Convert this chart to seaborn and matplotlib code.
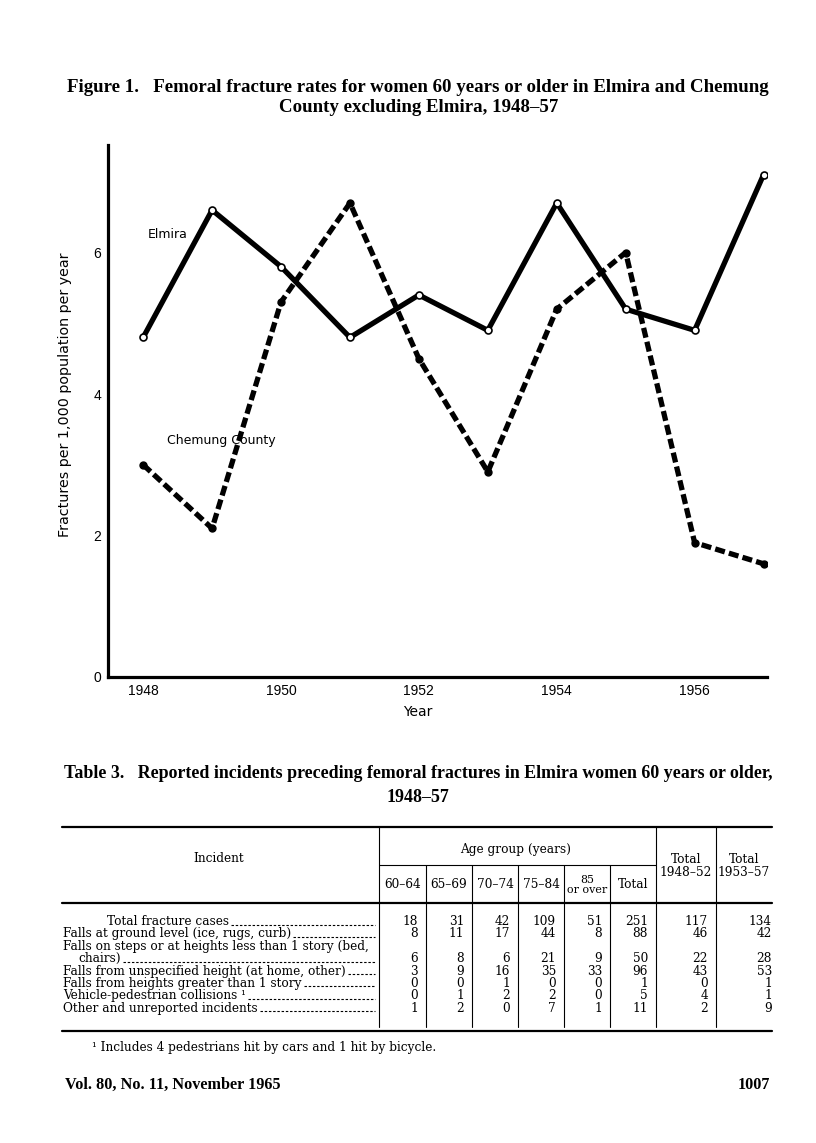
import numpy as np
import pandas as pd
import seaborn as sns
import matplotlib.pyplot as plt

# Figure 1 data
years = [1948, 1949, 1950, 1951, 1952, 1953, 1954, 1955, 1956, 1957]
elmira = [4.8, 6.6, 5.8, 4.8, 5.4, 4.9, 6.7, 5.2, 4.9, 7.1]
chemung = [3.0, 2.1, 5.3, 6.7, 4.5, 2.9, 5.2, 6.0, 1.9, 1.6]
y_ticks = [0, 1, 2, 3, 4, 5, 6, 7]

# Table 3 data
incidents = [
    "Total fracture cases",
    "Falls at ground level (ice, rugs, curb)",
    "Falls on steps or at heights less than 1 story (bed,\nchairs)",
    "Falls from unspecified height (at home, other)",
    "Falls from heights greater than 1 story",
    "Vehicle-pedestrian collisions \u00b9",
    "Other and unreported incidents",
]
age_groups = ["60\u201364", "65\u201369", "70\u201374", "75\u201384", "85\nor over", "Total"]
age_60_64 = [18, 8, 6, 3, 0, 0, 1]
age_65_69 = [31, 11, 8, 9, 0, 1, 2]
age_70_74 = [42, 17, 6, 16, 1, 2, 0]
age_75_84 = [109, 44, 21, 35, 0, 2, 7]
age_85_over = [51, 8, 9, 33, 0, 0, 1]
age_total = [251, 88, 50, 96, 1, 5, 11]
total_1948_52 = [117, 46, 22, 43, 0, 4, 2]
total_1953_57 = [134, 42, 28, 53, 1, 1, 9]
period_headers = ["Total\n1948\u201352", "Total\n1953\u201357"]

sns.set_style("white")
plt.rcParams["text.color"] = "black"
plt.rcParams["axes.labelcolor"] = "black"
serif = ["DejaVu Serif"]
bold_serif = ["Liberation Serif", "DejaVu Serif"]
tick_font = ["Liberation Sans", "DejaVu Sans"]

W, H = 816, 1143
fig = plt.figure(figsize=(W / 100, H / 100), dpi=100)

# page axes in pixel units, for the printed text and the table
page = fig.add_axes([0, 0, 1, 1])
page.set_xlim(0, W)
page.set_ylim(H, 0)
page.axis("off")

# ---- Figure 1 ----
page.text(418, 88, "Figure 1.   Femoral fracture rates for women 60 years or older in Elmira and Chemung",
          ha="center", va="center", fontsize=13.6, fontweight="bold", family=bold_serif)
page.text(419, 108, "County excluding Elmira, 1948\u201357",
          ha="center", va="center", fontsize=13.6, fontweight="bold", family=bold_serif)

ax = fig.add_axes([108 / W, 1 - 677 / H, 659 / W, 532 / H])
ax.patch.set_alpha(0)

sns.lineplot(x=years, y=elmira, ax=ax, color="black", lw=3.8, marker="o",
             ms=5, mfc="white", mec="black", mew=1.2, zorder=3)
sns.lineplot(x=years, y=chemung, ax=ax, color="black", lw=3.8, linestyle=(0, (1.9, 0.8)),
             marker="o", ms=5, mfc="black", mec="black", mew=1, zorder=2)

ax.set_xlim(1947.49, 1957.05)
ax.set_ylim(0, 7.52)
ax.set_xticks(years)
ax.set_xticklabels([str(y) if y % 2 == 0 else "" for y in years], family=tick_font, fontsize=10)
ax.set_yticks(y_ticks)
ax.set_yticklabels([str(v) if v % 2 == 0 else "" for v in y_ticks], family=tick_font, fontsize=10)
ax.tick_params(direction="in", length=7, width=1.8, pad=5, colors="black")
for side in ["top", "right"]:
    ax.spines[side].set_visible(False)
for side in ["left", "bottom"]:
    ax.spines[side].set_linewidth(2.3)
    ax.spines[side].set_color("black")

ax.set_xlabel("Year", family="DejaVu Sans", fontsize=10)
ax.xaxis.set_label_coords(0.47, -0.053)
ax.set_ylabel("Fractures per 1,000 population per year", family="DejaVu Sans", fontsize=10.3)
ax.yaxis.set_label_coords(-0.055, 0.53)

ax.text(1948.07, 6.25, "Elmira", fontsize=9, family="DejaVu Sans", va="center", zorder=1)
ax.text(1948.35, 3.35, "Chemung County", fontsize=9, family="DejaVu Sans", va="center", zorder=1)

# ---- Table 3 ----
page.text(418, 773, "Table 3.   Reported incidents preceding femoral fractures in Elmira women 60 years or older,",
          ha="center", va="center", fontsize=12.9, fontweight="bold", family=bold_serif)
page.text(418, 797, "1948\u201357", ha="center", va="center", fontsize=12.9, fontweight="bold", family=bold_serif)

left, right = 62, 772
edges = [379, 426, 472, 518, 564, 610, 656, 716, 772]
top, head_line, head_bottom, body_bottom, bottom = 827, 865, 903, 1027, 1031

for y in [top, head_bottom, bottom]:
    page.plot([left, right], [y, y], color="black", lw=1.6)
page.plot([edges[0], edges[6]], [head_line, head_line], color="black", lw=0.8)
for i, x in enumerate(edges[:-1]):
    y0 = top if i in (0, 6, 7) else head_line
    page.plot([x, x], [y0, body_bottom], color="black", lw=0.8)

fs = 8.7
page.text(219, 858, "Incident", ha="center", va="center", fontsize=fs, family=serif)
page.text(516, 849, "Age group (years)", ha="center", va="center", fontsize=fs, family=serif)
for i, lab in enumerate(age_groups):
    cx = (edges[i] + edges[i + 1]) / 2
    page.text(cx, 885, lab, ha="center", va="center", fontsize=fs if "\n" not in lab else fs - 0.8,
              family=serif, linespacing=1.0)
for i, lab in enumerate(period_headers):
    cx = (edges[6 + i] + edges[7 + i]) / 2
    page.text(cx, 866, lab, ha="center", va="center", fontsize=fs, family=serif, linespacing=1.0)

columns = [age_60_64, age_65_69, age_70_74, age_75_84, age_85_over, age_total,
           total_1948_52, total_1953_57]
line_y = 921.5
step = 12.4
label_texts = []
row_y = []
for r, lab in enumerate(incidents):
    parts = lab.split("\n")
    for k, part in enumerate(parts):
        if r == 0:
            x0 = 107
        elif k > 0:
            x0 = 78
        else:
            x0 = 63
        t = page.text(x0, line_y, part, ha="left", va="center", fontsize=fs, family=serif)
        if k < len(parts) - 1:
            line_y += step
    label_texts.append(t)
    row_y.append(line_y)
    line_y += step

for c, col in enumerate(columns):
    xr = edges[c + 1] - (8 if c < len(columns) - 1 else 0)
    for r, v in enumerate(col):
        page.text(xr, row_y[r], str(v), ha="right", va="center", fontsize=fs, family=serif)

# dashed leaders from each label to the first column rule
fig.canvas.draw()
renderer = fig.canvas.get_renderer()
inv = page.transData.inverted()
for t, y in zip(label_texts, row_y):
    bb = t.get_window_extent(renderer)
    x_end = inv.transform((bb.x1, bb.y0))[0]
    page.plot([x_end + 2, edges[0] - 4], [y + 3, y + 3], color="black", lw=0.8,
              linestyle=(0, (2.2, 1.6)))

page.text(92, 1048, "\u00b9 Includes 4 pedestrians hit by cars and 1 hit by bicycle.",
          ha="left", va="center", fontsize=fs, family=serif)
page.text(65, 1085, "Vol. 80, No. 11, November 1965", ha="left", va="center",
          fontsize=11.7, fontweight="bold", family=bold_serif)
page.text(770, 1085, "1007", ha="right", va="center", fontsize=11.7, fontweight="bold", family=bold_serif)

fig.savefig("out.png", dpi=100)
